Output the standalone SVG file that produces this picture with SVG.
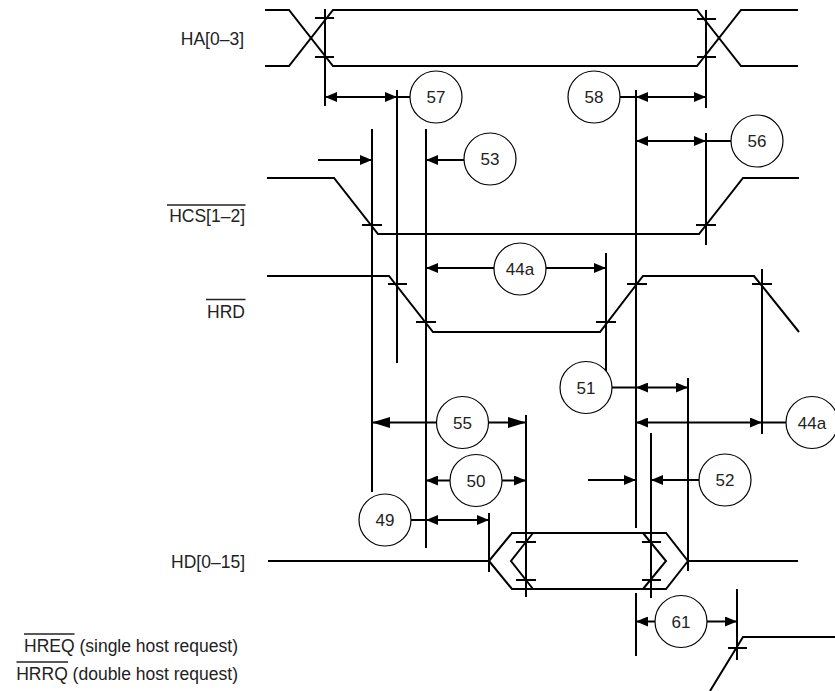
<svg xmlns="http://www.w3.org/2000/svg" width="835" height="691" viewBox="0 0 835 691">
<defs>
<style>
.sig{fill:none;stroke:#000;stroke-width:2;stroke-linejoin:miter}
.mk{stroke:#000;stroke-width:2}
.tk{stroke:#000;stroke-width:2}
.ar{stroke:#000;stroke-width:2;fill:none}
.c{fill:#fff;stroke:#000;stroke-width:1.2}
.n{font-family:"Liberation Sans",Arial,sans-serif;font-size:17px;fill:#222;text-anchor:middle}
.lb{font-family:"Liberation Sans",Arial,sans-serif;font-size:17.5px;fill:#222}
.ov{stroke:#222;stroke-width:1.5}
</style>
<marker id="ah" viewBox="0 0 12 10" refX="12" refY="5" markerWidth="12" markerHeight="10" markerUnits="userSpaceOnUse" orient="auto-start-reverse"><path d="M0,0 L12,5 L0,10 z" fill="#000"/></marker>
<marker id="ahl" viewBox="0 0 18 11" refX="18" refY="5.5" markerWidth="18" markerHeight="11" markerUnits="userSpaceOnUse" orient="auto-start-reverse"><path d="M0,0 L18,5.5 L0,11 z" fill="#000"/></marker>
</defs>
<rect width="835" height="691" fill="#fff"/>

<g id="labels">
<text class="lb" x="244" y="44.5" text-anchor="end">HA[0–3]</text>
<text class="lb" x="245" y="221.5" text-anchor="end">HCS[1–2]</text>
<line class="ov" x1="167" y1="205" x2="245.5" y2="205"/>
<text class="lb" x="245" y="318" text-anchor="end">HRD</text>
<line class="ov" x1="206" y1="299.5" x2="245.5" y2="299.5"/>
<text class="lb" x="245" y="568" text-anchor="end">HD[0–15]</text>
<text class="lb" x="238" y="651.5" text-anchor="end">HREQ (single host request)</text>
<line class="ov" x1="24" y1="634" x2="74.5" y2="634"/>
<text class="lb" x="238" y="679.5" text-anchor="end">HRRQ (double host request)</text>
<line class="ov" x1="16.5" y1="662" x2="68" y2="662"/>
</g>

<g id="HA">
<polyline class="sig" points="265,10 289,10 333,66 697,66 741,10 798,10"/>
<polyline class="sig" points="265,66 289,66 333,10 697,10 741,66 798,66"/>
</g>
<g id="HCS">
<polyline class="sig" points="267,178 334,178 378,234 699,234 743,178 799,178"/>
</g>
<g id="HRD">
<polyline class="sig" points="267,276 389,276 433,332 600,332 643,276 754,276 799,332"/>
</g>
<g id="HD">
<polyline class="sig" points="268,561 489,561 512,533 666,533 688,561 798,561"/>
<polyline class="sig" points="489,561 512,589 666,589 688,561"/>
<polyline class="sig" points="533,533 511,561 533,589"/>
<polyline class="sig" points="643,533 666,561 643,589"/>
</g>
<g id="HREQ">
<polyline class="sig" points="710,691 743,637 835,637"/>
</g>

<g id="markers">
<line class="mk" x1="325" y1="9" x2="325" y2="106"/>
<line class="mk" x1="706" y1="10" x2="706" y2="108"/>
<line class="mk" x1="706" y1="133" x2="706" y2="245"/>
<line class="mk" x1="372" y1="129" x2="372" y2="492"/>
<line class="mk" x1="397" y1="90" x2="397" y2="363"/>
<line class="mk" x1="426" y1="129" x2="426" y2="548"/>
<line class="mk" x1="636" y1="90" x2="636" y2="528"/>
<line class="mk" x1="606" y1="253" x2="606" y2="371"/>
<line class="mk" x1="762" y1="269" x2="762" y2="434"/>
<line class="mk" x1="688" y1="378" x2="688" y2="571"/>
<line class="mk" x1="651" y1="433" x2="651" y2="598"/>
<line class="mk" x1="526" y1="415" x2="526" y2="597"/>
<line class="mk" x1="489" y1="513" x2="489" y2="572"/>
<line class="mk" x1="636" y1="593" x2="636" y2="656"/>
<line class="mk" x1="737" y1="589" x2="737" y2="660"/>
<line class="tk" x1="315" y1="18" x2="334" y2="18"/>
<line class="tk" x1="315" y1="57" x2="334" y2="57"/>
<line class="tk" x1="697" y1="19" x2="716" y2="19"/>
<line class="tk" x1="697" y1="57" x2="716" y2="57"/>
<line class="tk" x1="362" y1="225" x2="382" y2="225"/>
<line class="tk" x1="696" y1="225" x2="716" y2="225"/>
<line class="tk" x1="388" y1="284" x2="407" y2="284"/>
<line class="tk" x1="416" y1="322" x2="436" y2="322"/>
<line class="tk" x1="596" y1="322" x2="616" y2="322"/>
<line class="tk" x1="627" y1="284" x2="647" y2="284"/>
<line class="tk" x1="752" y1="284" x2="772" y2="284"/>
<line class="tk" x1="516" y1="542" x2="536" y2="542"/>
<line class="tk" x1="516" y1="580" x2="536" y2="580"/>
<line class="tk" x1="642" y1="542" x2="661" y2="542"/>
<line class="tk" x1="642" y1="580" x2="661" y2="580"/>
<line class="tk" x1="728" y1="648" x2="747" y2="648"/>
</g>

<g id="connectors">
<line class="ar" x1="325" y1="97" x2="397" y2="97" marker-start="url(#ah)" marker-end="url(#ah)"/>
<line class="ar" x1="397" y1="97" x2="410" y2="97"/>
<line class="ar" x1="620" y1="97" x2="636" y2="97"/>
<line class="ar" x1="636" y1="97" x2="706" y2="97" marker-start="url(#ah)" marker-end="url(#ah)"/>
<line class="ar" x1="318" y1="160" x2="372" y2="160" marker-end="url(#ah)"/>
<line class="ar" x1="464" y1="160" x2="426" y2="160" marker-end="url(#ah)"/>
<line class="ar" x1="636" y1="141" x2="706" y2="141" marker-start="url(#ah)" marker-end="url(#ah)"/>
<line class="ar" x1="706" y1="141" x2="731" y2="141"/>
<line class="ar" x1="494" y1="268" x2="426" y2="268" marker-end="url(#ah)"/>
<line class="ar" x1="546" y1="268" x2="606" y2="268" marker-end="url(#ah)"/>
<line class="ar" x1="612" y1="387.5" x2="636" y2="387.5"/>
<line class="ar" x1="636" y1="387.5" x2="688" y2="387.5" marker-start="url(#ah)" marker-end="url(#ah)"/>
<line class="ar" x1="636" y1="422.5" x2="762" y2="422.5" marker-start="url(#ah)" marker-end="url(#ah)"/>
<line class="ar" x1="762" y1="422.5" x2="786" y2="422.5"/>
<line class="ar" x1="437" y1="422.5" x2="372" y2="422.5" marker-end="url(#ahl)"/>
<line class="ar" x1="488" y1="422.5" x2="526" y2="422.5" marker-end="url(#ahl)"/>
<line class="ar" x1="450" y1="480.5" x2="426" y2="480.5" marker-end="url(#ah)"/>
<line class="ar" x1="502" y1="480.5" x2="526" y2="480.5" marker-end="url(#ah)"/>
<line class="ar" x1="588" y1="480" x2="636" y2="480" marker-end="url(#ah)"/>
<line class="ar" x1="699" y1="480" x2="651" y2="480" marker-end="url(#ah)"/>
<line class="ar" x1="411" y1="520" x2="426" y2="520"/>
<line class="ar" x1="426" y1="520" x2="489" y2="520" marker-start="url(#ah)" marker-end="url(#ah)"/>
<line class="ar" x1="655" y1="621.5" x2="636" y2="621.5" marker-end="url(#ah)"/>
<line class="ar" x1="707" y1="621.5" x2="737" y2="621.5" marker-end="url(#ah)"/>
</g>

<g id="n57"><circle class="c" cx="436" cy="97" r="26"/><text class="n" x="436" y="103">57</text></g>
<g id="n58"><circle class="c" cx="594" cy="97" r="26"/><text class="n" x="594" y="103">58</text></g>
<g id="n53"><circle class="c" cx="490" cy="159" r="26"/><text class="n" x="490" y="165">53</text></g>
<g id="n56"><circle class="c" cx="757" cy="141" r="26"/><text class="n" x="757" y="147">56</text></g>
<g id="n44a_1"><circle class="c" cx="520" cy="269" r="26"/><text class="n" x="520" y="275">44a</text></g>
<g id="n51"><circle class="c" cx="586" cy="387.5" r="26"/><text class="n" x="586" y="393.5">51</text></g>
<g id="n44a_2"><circle class="c" cx="812" cy="422.5" r="26"/><text class="n" x="812" y="428.5">44a</text></g>
<g id="n55"><circle class="c" cx="462.5" cy="422.5" r="26"/><text class="n" x="462.5" y="428.5">55</text></g>
<g id="n50"><circle class="c" cx="476" cy="480.5" r="26"/><text class="n" x="476" y="486.5">50</text></g>
<g id="n52"><circle class="c" cx="725" cy="480" r="26"/><text class="n" x="725" y="486">52</text></g>
<g id="n49"><circle class="c" cx="385" cy="520" r="26"/><text class="n" x="385" y="526">49</text></g>
<g id="n61"><circle class="c" cx="681" cy="621.5" r="26"/><text class="n" x="681" y="627.5">61</text></g>
</svg>
